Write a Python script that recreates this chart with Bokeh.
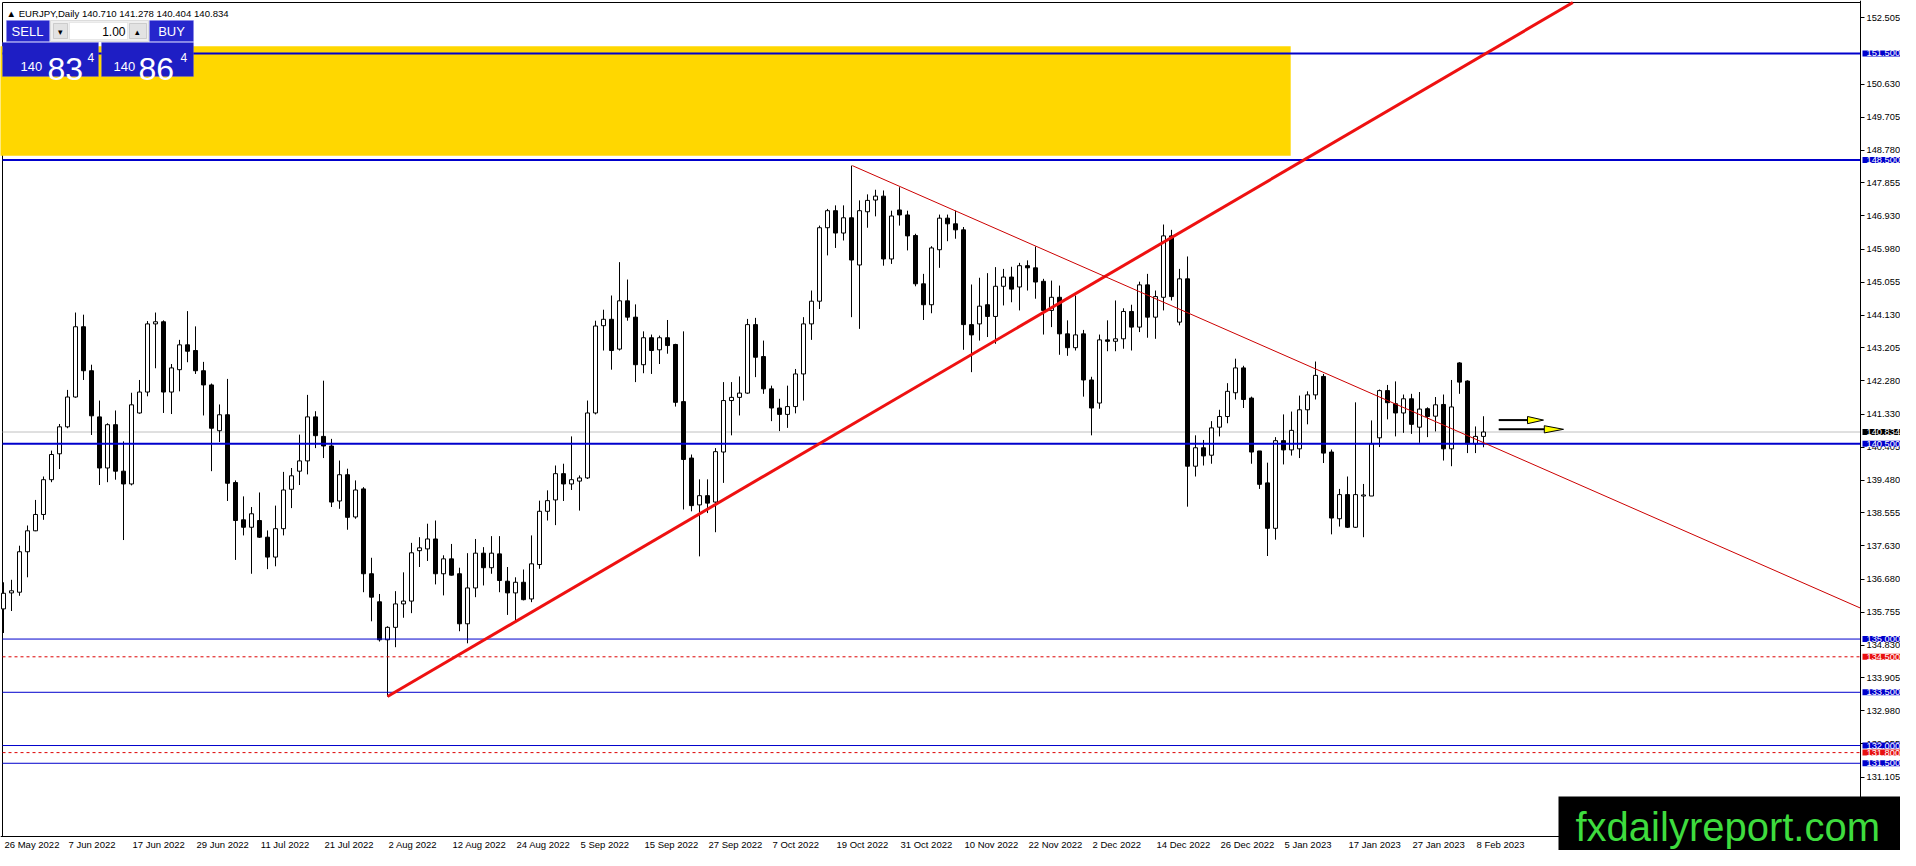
import numpy as np
from bokeh.plotting import figure
from bokeh.models import FixedTicker, NumeralTickFormatter, Label, BoxAnnotation, Range1d
from bokeh.embed import file_html
from bokeh.resources import INLINE

# ---------------- data ----------------
opens = [135.85,136.30,136.32,137.46,138.05,138.51,139.49,140.22,140.98,141.82,
         143.80,142.56,141.26,139.82,141.04,139.73,139.37,141.37,141.96,143.88,
         143.94,141.96,142.59,143.29,143.13,142.56,142.16,140.87,141.32,139.41,
         138.36,138.15,138.34,137.87,137.31,138.11,139.22,139.73,140.02,141.26,
         140.71,140.44,138.89,139.63,138.44,139.23,136.84,136.05,134.98,135.33,
         135.99,136.07,137.49,137.54,137.82,136.84,137.26,136.84,135.43,136.44,
         137.42,137.01,137.40,136.63,136.30,136.60,136.13,137.10,138.60,138.92,
         139.66,139.37,139.45,139.54,141.37,143.83,144.01,143.17,144.53,144.07,
         142.73,143.49,143.15,143.49,143.30,141.69,140.10,138.78,139.04,138.86,
         140.27,141.72,141.81,141.93,143.86,142.96,142.05,141.51,141.33,141.55,
         142.47,143.88,144.52,146.59,147.07,146.44,146.87,145.54,147.04,147.37,
         147.48,145.71,147.09,146.95,146.37,145.01,144.42,145.97,146.86,146.70,
         146.53,143.86,143.88,144.42,144.09,144.94,145.20,144.92,145.52,145.46,
         145.08,144.26,144.63,143.60,143.21,143.60,142.30,141.65,143.43,143.39,
         143.46,144.23,143.79,144.98,144.07,144.63,146.36,143.93,145.15,139.87,
         140.39,140.18,140.97,141.27,141.94,142.64,141.79,140.30,139.40,138.12,
         140.59,140.33,140.36,141.46,141.88,142.40,140.27,138.39,139.07,138.15,
         139.03,139.03,140.67,142.00,141.63,141.37,141.77,140.97,141.49,141.28,
         141.61,140.36,142.78,142.27,140.50,140.710]
highs = [136.60,136.67,137.63,138.20,138.92,139.58,140.31,141.06,142.02,144.20,
         144.14,142.73,141.72,141.08,141.44,140.57,141.94,142.30,143.96,144.20,
         143.98,142.75,143.43,144.24,143.81,142.81,142.20,141.61,142.33,139.47,
         139.02,138.72,139.13,138.06,138.76,139.71,139.82,140.76,141.88,141.42,
         142.28,140.64,140.03,139.80,139.47,139.28,137.29,136.27,135.36,136.35,
         136.88,137.71,137.87,138.25,138.34,137.36,137.68,137.01,137.42,137.82,
         137.59,137.90,137.90,137.03,136.74,136.96,137.92,138.90,139.19,139.89,
         139.94,140.71,139.61,141.72,143.97,144.28,144.68,145.62,145.13,144.43,
         143.67,143.58,143.55,143.99,143.32,143.67,140.20,139.50,139.50,140.38,
         142.24,142.24,142.40,144.02,144.05,143.41,142.14,141.77,142.14,142.61,
         144.07,144.82,146.65,147.12,147.22,147.22,148.34,147.36,147.53,147.66,
         147.64,147.07,147.73,147.07,146.42,145.29,146.07,146.96,146.96,147.07,
         146.61,144.99,145.18,145.31,145.48,145.43,145.49,145.60,145.67,146.06,
         145.15,145.10,144.96,143.98,144.68,143.71,142.39,143.58,143.98,144.54,
         144.32,144.42,145.07,145.29,144.82,146.68,146.53,145.43,145.78,140.74,
         140.61,141.14,141.46,142.21,142.90,142.70,141.83,140.30,139.97,140.69,
         141.33,141.41,141.86,141.98,142.82,142.47,140.34,139.23,139.58,141.67,
         139.37,141.16,142.03,142.16,142.26,141.89,141.91,141.96,141.53,141.82,
         141.89,142.30,142.80,142.29,140.99,141.278]
lows = [135.17,135.79,136.22,136.74,138.04,138.36,139.42,139.79,140.94,141.80,
        142.30,140.75,139.34,139.42,139.49,137.79,139.33,141.35,141.84,142.63,
        141.37,141.34,141.98,142.80,142.47,141.30,139.73,140.55,138.89,137.23,
        137.92,136.84,137.85,136.97,137.05,137.92,138.69,139.34,139.64,140.38,
        140.10,138.72,138.67,138.08,138.39,136.32,135.50,134.93,133.38,134.77,
        135.60,135.73,137.03,137.20,136.54,136.23,136.79,135.22,134.88,136.18,
        136.51,136.84,136.32,135.68,135.52,136.09,136.04,136.98,138.34,138.21,
        138.89,139.20,138.62,139.51,141.33,143.13,142.59,143.13,143.97,142.24,
        142.49,142.47,142.75,143.04,141.55,138.65,138.60,137.33,138.55,138.01,
        139.40,140.74,141.30,141.91,142.38,141.91,141.14,140.86,140.95,141.36,
        141.72,143.43,144.30,145.81,146.02,146.23,144.07,143.74,146.59,146.91,
        145.52,145.57,146.65,145.95,144.94,143.99,144.18,145.46,146.21,146.28,
        143.15,142.52,143.41,143.51,143.32,144.40,144.49,144.26,144.82,144.59,
        143.58,143.79,143.01,142.98,143.13,141.83,140.74,141.49,143.11,143.11,
        143.18,143.13,143.65,143.49,143.46,144.26,144.54,143.84,138.73,139.58,
        139.89,139.94,140.71,141.08,141.75,141.51,139.94,139.23,137.34,137.80,
        139.92,140.17,140.10,141.05,141.75,139.96,137.95,138.17,138.13,138.13,
        137.87,139.03,140.41,141.19,140.71,140.81,140.78,140.53,140.69,140.85,
        140.03,139.87,141.91,140.24,140.24,140.404]
closes = [136.29,136.36,137.46,138.05,138.51,139.49,140.20,140.98,141.82,143.80,
          142.56,141.29,139.82,141.04,139.73,139.37,141.60,141.96,143.88,143.94,
          141.96,142.64,143.29,143.11,142.56,142.16,140.94,141.32,139.39,138.34,
          138.15,138.53,137.87,137.31,138.11,139.20,139.60,140.02,141.26,140.73,
          140.44,138.86,139.63,138.43,139.20,136.84,136.18,134.98,135.33,135.99,
          136.07,137.43,137.57,137.82,136.84,137.26,136.80,135.43,136.44,137.42,
          137.01,137.42,136.65,136.30,136.60,136.11,137.12,138.60,138.90,139.66,
          139.37,139.49,139.54,141.37,143.82,144.01,143.13,144.53,144.07,142.73,
          143.49,143.13,143.49,143.27,141.67,140.06,138.76,139.04,138.83,140.28,
          141.72,141.81,141.93,143.86,142.94,142.05,141.51,141.33,141.55,142.47,
          143.88,144.52,146.59,147.07,146.44,146.87,145.68,147.07,147.36,147.48,
          145.71,146.92,146.95,146.36,145.01,144.42,146.02,146.86,146.70,146.53,
          143.86,143.57,144.38,144.09,144.94,145.20,144.86,145.52,145.46,145.06,
          144.26,144.63,143.60,143.21,143.57,142.30,141.51,143.43,143.39,143.46,
          144.23,143.79,144.98,144.07,144.65,146.36,144.65,145.15,139.87,140.39,
          140.16,140.95,141.27,141.98,142.64,141.75,140.27,139.36,138.12,140.59,
          140.33,140.88,141.46,141.88,142.43,140.24,138.41,139.07,138.15,139.07,
          139.06,140.50,142.00,141.66,141.37,141.77,141.05,141.48,141.27,141.60,
          140.36,141.54,142.24,140.50,140.71,140.834]

date_tick_bars = list(range(0, 186, 8))
date_tick_labels = ["26 May 2022", "7 Jun 2022", "17 Jun 2022", "29 Jun 2022", "11 Jul 2022",
                    "21 Jul 2022", "2 Aug 2022", "12 Aug 2022", "24 Aug 2022", "5 Sep 2022",
                    "15 Sep 2022", "27 Sep 2022", "7 Oct 2022", "19 Oct 2022", "31 Oct 2022",
                    "10 Nov 2022", "22 Nov 2022", "2 Dec 2022", "14 Dec 2022", "26 Dec 2022",
                    "5 Jan 2023", "17 Jan 2023", "27 Jan 2023", "8 Feb 2023"]
price_ticks = [152.505, 150.630, 149.705, 148.780, 147.855, 146.930, 145.980,
               145.055, 144.130, 143.205, 142.280, 141.330, 140.405, 139.480, 138.555,
               137.630, 136.680, 135.755, 134.830, 133.905, 132.980, 132.055, 131.105, 130.180]

blue_levels = [151.5, 148.5, 140.5, 135.0, 133.5, 132.0, 131.5]
blue_widths = [2, 2, 2, 1, 1, 1, 1]
red_levels = [134.5, 131.8]
bid_price = 140.834

zone_bars = [-1.0, 160.9]
zone_prices = [148.62, 151.70]

uptrend_bars = [48.0, 159.6]
uptrend_prices = [133.38, 148.11]
downtrend_bars = [106.1, 153.0]
downtrend_prices = [148.34, 143.70]

arrow_bar_start = [186.9, 186.9]
arrow_bar_head = [190.5, 192.6]
arrow_bar_tip = [192.5, 195.0]
arrow_prices = [141.17, 140.91]

sell_price = "140 83 4"
buy_price = "140 86 4"

# ---------------- layout: reference picture pixels -> data ----------------
W, H = 1900, 850
BAR_PX = 8.0
PX_PER_PRICE = 35.49

def xi(px):
    return (px - 3) / BAR_PX

def yp(py):
    return 152.505 - (py - 17.3) / PX_PER_PRICE

X0, X1 = xi(0), xi(W)
Y_TOP, Y_BOT = yp(0), yp(H)
CHART_RIGHT = xi(1860)
CHART_BOTTOM = yp(836)

FONT = "Liberation Sans"

p = figure(width=W, height=H, output_backend="svg", toolbar_location=None,
           x_range=Range1d(X0, X1), y_range=Range1d(Y_BOT, Y_TOP),
           y_axis_location="right", min_border=0, min_border_left=0, min_border_right=0,
           min_border_top=0, min_border_bottom=0,
           background_fill_color="white", border_fill_color="white",
           outline_line_color=None)
p.grid.visible = False

# right price axis, drawn at the chart's right border
yax = p.yaxis[0]
yax.fixed_location = CHART_RIGHT
yax.bounds = (Y_BOT, Y_TOP)
yax.ticker = FixedTicker(ticks=price_ticks)
yax.formatter = NumeralTickFormatter(format="0.000")
yax.major_label_text_font = FONT
yax.major_label_text_font_size = "9.3px"
yax.major_label_text_color = "black"
yax.major_tick_out = 4
yax.major_tick_in = 0
yax.minor_tick_out = 0
yax.minor_tick_in = 0
yax.major_label_standoff = 2
yax.axis_line_color = "black"

# date axis: MT4 labels start at their bar, so each label is centred half its width to the right
CHAR_EM = {" ": 0.278, "M": 0.833, "a": 0.556, "y": 0.5, "J": 0.5, "u": 0.556, "n": 0.556, "l": 0.222,
           "A": 0.667, "g": 0.556, "S": 0.667, "e": 0.556, "p": 0.556, "O": 0.778, "c": 0.5, "t": 0.278,
           "N": 0.722, "o": 0.556, "v": 0.5, "D": 0.722, "F": 0.611, "b": 0.556}
def text_px(s, size=9.5):
    return sum(CHAR_EM.get(ch, 0.556) for ch in s) * size

label_pos = [b + (text_px(s) / 2 + 1) / BAR_PX for b, s in zip(date_tick_bars, date_tick_labels)]
xax = p.xaxis[0]
xax.fixed_location = CHART_BOTTOM
xax.bounds = (X0, CHART_RIGHT)
xax.ticker = FixedTicker(ticks=label_pos)
xax.major_label_overrides = {pos: lab for pos, lab in zip(label_pos, date_tick_labels)}
xax.major_label_text_font = FONT
xax.major_label_text_font_size = "9.5px"
xax.major_label_text_color = "black"
xax.major_tick_out = 0
xax.major_tick_in = 0
xax.minor_tick_out = 0
xax.minor_tick_in = 0
xax.major_label_standoff = 2
xax.axis_line_color = "black"

# chart border (left / top)
p.segment(x0=[xi(2)], y0=[yp(2)], x1=[xi(2)], y1=[CHART_BOTTOM], line_color="black", line_width=1)
p.segment(x0=[xi(2)], y0=[yp(2)], x1=[CHART_RIGHT], y1=[yp(2)], line_color="black", line_width=1)

# yellow zone
p.quad(left=[zone_bars[0]], right=[zone_bars[1]], bottom=[zone_prices[0]], top=[zone_prices[1]],
       fill_color="#FFD700", line_color=None)

# bid line
p.segment(x0=[xi(2)], y0=[bid_price], x1=[CHART_RIGHT], y1=[bid_price], line_color="#C0C0C0", line_width=1)

# candles
idx = np.arange(len(opens))
o = np.array(opens); h = np.array(highs); l = np.array(lows); c = np.array(closes)
up = c >= o
dn = ~up
p.segment(x0=idx, y0=h, x1=idx, y1=l, line_color="black", line_width=1)
p.vbar(x=idx[up], bottom=o[up], top=c[up], width=0.5, fill_color="white", line_color="black", line_width=1)
p.vbar(x=idx[dn], bottom=c[dn], top=o[dn], width=0.5, fill_color="black", line_color="black", line_width=1)

# horizontal levels
for lev, wdt in zip(blue_levels, blue_widths):
    p.segment(x0=[xi(2)], y0=[lev], x1=[CHART_RIGHT], y1=[lev], line_color="#0000CC", line_width=wdt)
for lev in red_levels:
    p.segment(x0=[xi(2)], y0=[lev], x1=[CHART_RIGHT], y1=[lev], line_color="#DD0000", line_width=1, line_dash="3 3")

# trendlines (rays extended to the chart's right border)
def extend(bars, prices):
    slope = (prices[1] - prices[0]) / (bars[1] - bars[0])
    xe = CHART_RIGHT
    ye = prices[0] + slope * (xe - bars[0])
    top = yp(2)
    if ye > top:
        xe = bars[0] + (top - prices[0]) / slope
        ye = top
    return [bars[0], xe], [prices[0], ye]

ux, uy = extend(uptrend_bars, uptrend_prices)
p.line(ux, uy, line_color="#EE1111", line_width=3)
dx, dy = extend(downtrend_bars, downtrend_prices)
p.line(dx, dy, line_color="#CC0000", line_width=1)

# arrows
half = 3.6 / PX_PER_PRICE
p.segment(x0=arrow_bar_start, y0=arrow_prices, x1=arrow_bar_head, y1=arrow_prices, line_color="black", line_width=2)
tri_x = [[hb, tb, hb] for hb, tb in zip(arrow_bar_head, arrow_bar_tip)]
tri_y = [[pr + half, pr, pr - half] for pr in arrow_prices]
p.patches(tri_x, tri_y, fill_color="#FFFF00", line_color="black", line_width=1)

# right axis price tags
tags = [(lev, "#0000CC") for lev in blue_levels] + [(lev, "#E81010") for lev in red_levels] + [(bid_price, "black")]
for lev, col in tags:
    p.add_layout(Label(x=CHART_RIGHT, y=lev, x_offset=2, text=f"{lev:.3f}", text_font=FONT, text_font_size="9.3px",
                       text_color="white", text_align="left", text_baseline="middle", level="overlay",
                       background_fill_color=col, padding=dict(left=4, right=1, top=0, bottom=0)))

# title
p.add_layout(Label(x=xi(6), y=yp(13), text=f"\u25b2 EURJPY,Daily  {opens[-1]:.3f} {highs[-1]:.3f} {lows[-1]:.3f} {closes[-1]:.3f}",
                   text_font=FONT, text_font_size="9.6px", text_color="black", text_baseline="alphabetic"))

# trade panel
def box(x0, x1, y0, y1, fill, line):
    p.add_layout(BoxAnnotation(left=xi(x0), right=xi(x1), top=yp(y0), bottom=yp(y1),
                               fill_color=fill, fill_alpha=1, line_color=line, line_width=1, level="overlay"))

box(2, 98, 42, 76, "#1E1EC4", "#6A6AE8")
box(101, 193, 42, 76, "#1E1EC4", "#6A6AE8")
box(6, 49, 20, 41, "#2626CC", "#7A7AEE")
box(50, 148, 20, 41, "#EFEFEF", "#A0A0A0")
box(53, 67, 23, 38, "#E2E2E2", "#8C8C8C")
box(69, 127, 22, 39, "white", "#C8C8C8")
box(129, 146, 23, 38, "#E2E2E2", "#8C8C8C")
box(149, 193, 20, 41, "#2626CC", "#7A7AEE")

def txt(x, y, s, size, color="white", align="left", base="alphabetic"):
    p.add_layout(Label(x=xi(x), y=yp(y), text=s, text_font=FONT, text_font_size=size,
                       text_color=color, text_align=align, text_baseline=base, level="overlay"))

txt(27, 31, "SELL", "13px", align="center", base="middle")
txt(171, 31, "BUY", "13px", align="center", base="middle")
txt(125, 31, "1.00", "12px", color="black", align="right", base="middle")
txt(60, 31, "\u25be", "9px", color="black", align="center", base="middle")
txt(137, 31, "\u25b4", "9px", color="black", align="center", base="middle")
sp = sell_price.split(); bp = buy_price.split()
txt(20, 66, sp[0], "13px")
txt(47, 68, sp[1], "32px")
txt(87, 57, sp[2], "12px")
txt(113, 66, bp[0], "13px")
txt(138, 68, bp[1], "32px")
txt(180, 57, bp[2], "12px")

# watermark: black box from x=1558 toward the page edge, text kept well inside the page
p.add_layout(Label(x=xi(1558), y=yp(826), text="fxdailyreport.com", text_font=FONT, text_font_size="40px",
                   text_color="#3EDC3E", text_baseline="alphabetic", background_fill_color="black",
                   padding=dict(left=17, right=30, top=8, bottom=8), level="overlay"))

open("out.html", "w").write(file_html(p, INLINE))
